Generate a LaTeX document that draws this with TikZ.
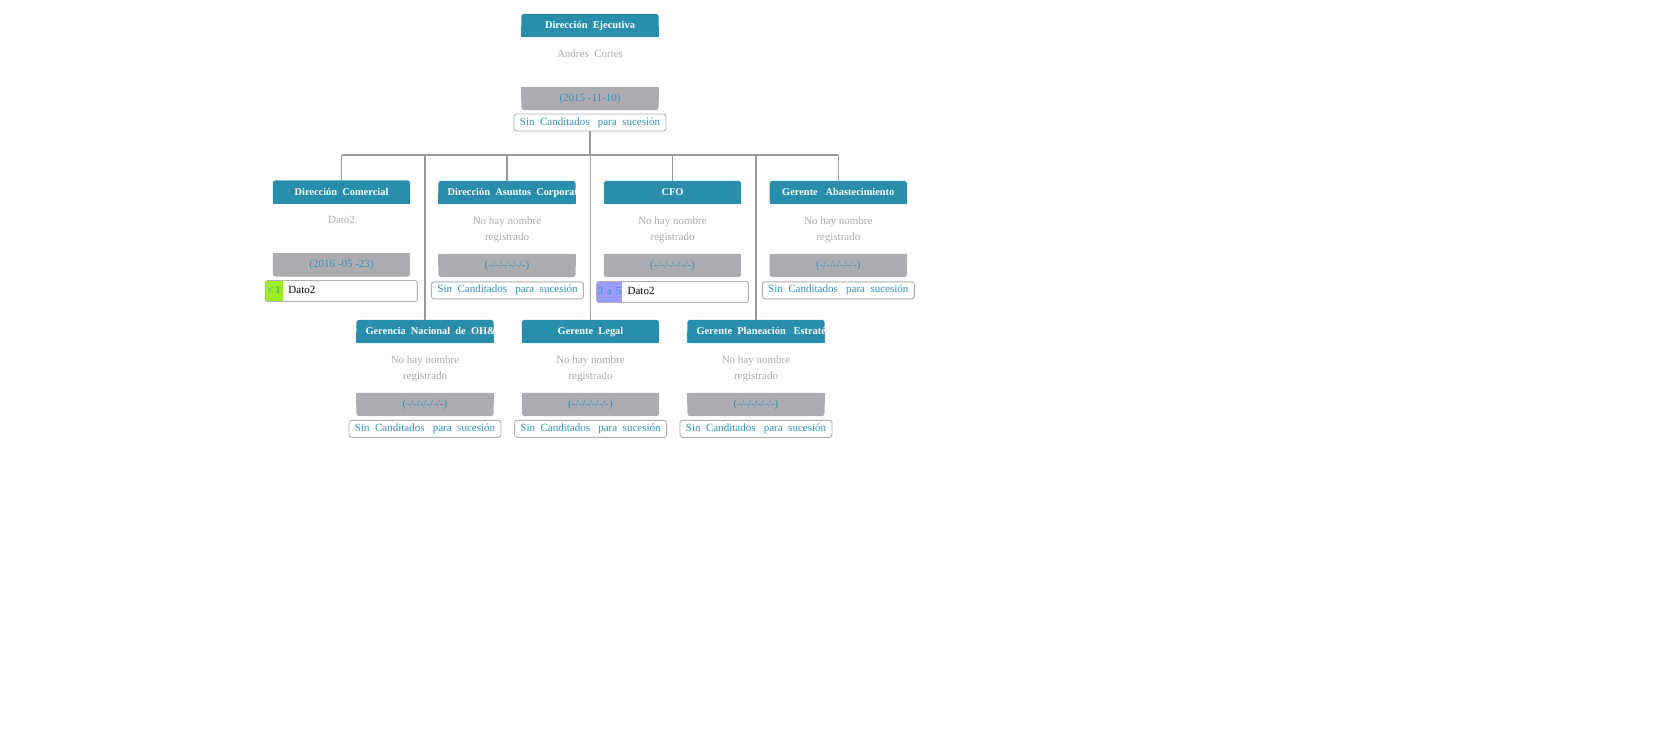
\documentclass[tikz,border=0pt]{standalone}
\usepackage{fontspec}
\setmainfont{Liberation Serif}
\usetikzlibrary{backgrounds}

\definecolor{hdrc}{HTML}{298DAC}
\definecolor{datec}{HTML}{ADADB1}
\definecolor{linkc}{HTML}{2E93BE}
\definecolor{namec}{HTML}{ABABAB}
\definecolor{framec}{HTML}{AFAFB2}
\definecolor{wirec}{HTML}{9A9A9A}
\definecolor{limec}{HTML}{9BEE22}
\definecolor{lilac}{HTML}{9C9CFF}

\tikzset{
  hdrbox/.style={minimum width=137pt, minimum height=23pt, inner sep=0pt},
  hdrtxt/.style={inner sep=0pt, text=white, text height=8pt, text depth=1.1pt,
                 font=\bfseries\fontsize{10.4}{12}\selectfont},
  tpad-center/.style={},
  tpad-west/.style={xshift=9pt},
  nametxt/.style={anchor=north, inner sep=0pt, align=center, text=namec,
                  font=\fontsize{11}{16}\selectfont},
  datebox/.style={minimum width=137pt, minimum height=23pt, inner sep=0pt,
                  text height=7.6pt, text depth=2.4pt,
                  text=linkc, font=\fontsize{11}{13}\selectfont},
  succbox/.style={draw=framec, line width=0.9pt, fill=white, rounded corners=2.5pt,
                  minimum width=152pt, minimum height=17pt, inner sep=0pt,
                  text height=7.6pt, text depth=2.4pt,
                  text=linkc, font=\fontsize{11}{13}\selectfont},
  candbox/.style={draw=framec, line width=0.9pt, fill=white, rounded corners=2.5pt,
                  minimum width=152pt, minimum height=21pt, inner sep=0pt},
  candtag/.style={anchor=west, inner sep=0pt, minimum height=20pt,
                  text height=7.6pt, text depth=2.4pt,
                  text=linkc, font=\fontsize{10.5}{13}\selectfont},
  candname/.style={anchor=west, inner sep=0pt, text=black,
                   text height=7.6pt, text depth=2.4pt,
                   font=\fontsize{11}{13}\selectfont},
  wire/.style={draw=wirec, line width=1.3pt}
}

% one position card: header, holder name, date strip
% #1 id, #2 centre x, #3 top y, #4 title, #5 holder, #6 date, #7 title anchor
\newcommand\orgcard[7]{%
  \node[hdrbox] (#1h) at (#2,#3+11.5) {};
  \begin{scope}
    \clip (#1h.south west) rectangle (#1h.north east);
    \node[hdrtxt, anchor=#7, tpad-#7] (#1t) at (#1h.#7) {#4};
  \end{scope}
  \node[nametxt] (#1n) at (#2,#3+36) {#5};
  \node[datebox] (#1d) at (#2,#3+84.5) {#6};
  \begin{pgfonlayer}{background}
    \fill[hdrc, rounded corners=3pt] (#1h.south west) rectangle (#1h.north east);
    \fill[hdrc] (#1h.south west) rectangle (#1h.east);
    \fill[datec, rounded corners=3pt] (#1d.south west) rectangle (#1d.north east);
    \fill[datec] (#1d.west) rectangle (#1d.north east);
  \end{pgfonlayer}
}

\begin{document}
\begin{tikzpicture}[x=1pt, y=-1pt]
  \useasboundingbox (0,0) rectangle (1660,740);

  % top position
  \orgcard{r}{590}{14}{Dirección\ \ Ejecutiva}{Andres\ \ Cortes}{(2015 -11-10)}{center}
  \node[succbox] (rs) at (590,122.5) {Sin\ \ Canditados\ \ \ para\ \ sucesión};

  % first row
  \orgcard{a}{341.5}{180.5}{Dirección\ \ Comercial}{Dato2}{(2016 -05 -23)}{center}
  \orgcard{b}{507}{181}{Dirección\ \ Asuntos\ \ Corporat}{No hay nombre\\registrado}{(-/-/-/-/-/-)}{west}
  \orgcard{c}{672.5}{181}{CFO}{No hay nombre\\registrado}{(-/-/-/-/-/-)}{center}
  \orgcard{d}{838.3}{181}{Gerente\ \ \ Abastecimiento}{No hay nombre\\registrado}{(-/-/-/-/-/-)}{center}

  % second row
  \orgcard{e}{425}{320}{Gerencia\ \ Nacional\ \ de\ \ OH\&}{No hay nombre\\registrado}{(-/-/-/-/-/-)}{west}
  \orgcard{f}{590.5}{320}{Gerente\ \ Legal}{No hay nombre\\registrado}{(-/-/-/-/-/-)}{center}
  \orgcard{g}{756}{320}{Gerente\ \ Planeación\ \ \ Estraté}{No hay nombre\\registrado}{(-/-/-/-/-/-)}{west}

  % succession strips
  \node[candbox] (as) at (341.3,291) {};
  \node[candtag, fill=limec, minimum width=17pt] (ag) at ([xshift=0.5pt]as.west) {<\,1};
  \node[candname] (an) at ([xshift=5.5pt]ag.east) {Dato2};
  \node[succbox] (bs) at (507.5,290.3) {Sin\ \ Canditados\ \ \ para\ \ sucesión};
  \node[candbox] (cs) at (672.5,292) {};
  \node[candtag, fill=lilac, minimum width=25.5pt] (cg) at ([xshift=0.5pt]cs.west) {3\hspace{0.38em}a\hspace{0.38em}5};
  \node[candname] (cn) at ([xshift=5pt]cg.east) {Dato2};
  \node[succbox] (ds) at (838.3,290.3) {Sin\ \ Canditados\ \ \ para\ \ sucesión};
  \node[succbox] (es) at (425,428.8) {Sin\ \ Canditados\ \ \ para\ \ sucesión};
  \node[succbox] (fs) at (590.5,428.8) {Sin\ \ Canditados\ \ \ para\ \ sucesión};
  \node[succbox] (gs) at (756,428.8) {Sin\ \ Canditados\ \ \ para\ \ sucesión};

  % reporting lines
  \coordinate (bus) at (590,155);
  \begin{pgfonlayer}{background}
    \draw[wire] (rs.south) -- (rs.south |- bus);
    \draw[wire] (ah.north |- bus) -- (dh.north |- bus);
    \foreach \k in {a,b,c,d} { \draw[wire] (\k h.north) -- (\k h.north |- bus); }
    \foreach \k in {e,f,g} { \draw[wire] (\k h.north) -- (\k h.north |- bus); }
  \end{pgfonlayer}
\end{tikzpicture}
\end{document}
